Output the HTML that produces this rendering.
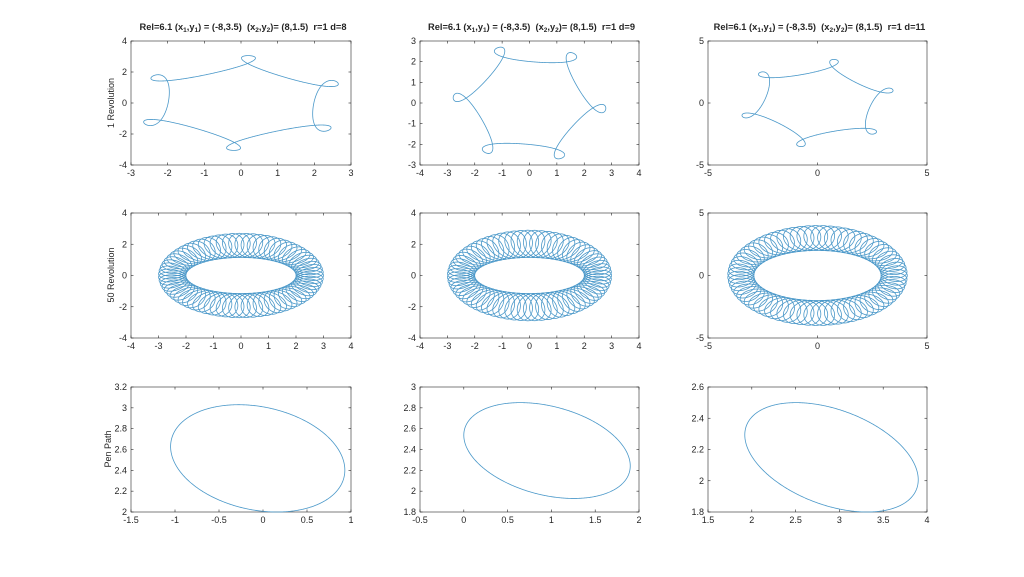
<!DOCTYPE html>
<html><head><meta charset="utf-8"><style>
body{margin:0;background:#fff;}
svg text{font-family:"Liberation Sans",sans-serif;fill:#262626;}
</style></head><body>
<svg id="s" width="1024" height="572" xmlns="http://www.w3.org/2000/svg"></svg>
<script>
const S=document.getElementById('s');let h='';
const cols=[[131,351],[420,639],[708,927]];
const rows=[[41,165],[213,338],[387,512]];
const ax=[
 [{x:[-3,3,1],y:[-4,4,2]},{x:[-4,4,1],y:[-3,3,1]},{x:[-5,5,5],y:[-5,5,5]}],
 [{x:[-4,4,1],y:[-4,4,2]},{x:[-4,4,1],y:[-4,4,2]},{x:[-5,5,5],y:[-5,5,5]}],
 [{x:[-1.5,1,0.5],y:[2,3.2,0.2]},{x:[-0.5,2,0.5],y:[1.8,3,0.2]},{x:[1.5,4,0.5],y:[1.8,2.6,0.2]}]];
const dv=[8,9,11];
function fmt(v){v=Math.round(v*10)/10;return (v<0?'-':'')+Math.abs(v);}
function curve(r,c,f,t0,t1,n){
 const a=ax[r][c],[L,R]=cols[c],[T,B]=rows[r];
 const X=v=>L+(v-a.x[0])/(a.x[1]-a.x[0])*(R-L), Y=v=>B-(v-a.y[0])/(a.y[1]-a.y[0])*(B-T);
 let d='';for(let i=0;i<=n;i++){const t=t0+(t1-t0)*i/n;const p=f(t);d+=(i?'L':'M')+X(p[0]).toFixed(2)+' '+Y(p[1]).toFixed(2);}
 h+=`<path d="${d}" fill="none" stroke="#4a98c9" stroke-width="0.8"/>`;
}
for(let r=0;r<3;r++)for(let c=0;c<3;c++){
 const a=ax[r][c],[L,R]=cols[c],[T,B]=rows[r];
 h+=`<rect x="${L}" y="${T}" width="${R-L}" height="${B-T}" fill="none" stroke="#262626" stroke-width="0.6"/>`;
 for(let v=a.x[0];v<=a.x[1]+1e-9;v+=a.x[2]){const x=L+(v-a.x[0])/(a.x[1]-a.x[0])*(R-L);
  h+=`<line x1="${x}" y1="${B}" x2="${x}" y2="${B-2.5}" stroke="#262626" stroke-width="0.6"/><line x1="${x}" y1="${T}" x2="${x}" y2="${T+2.5}" stroke="#262626" stroke-width="0.6"/><text x="${x}" y="${B+11}" font-size="9" text-anchor="middle">${fmt(v)}</text>`;}
 for(let v=a.y[0];v<=a.y[1]+1e-9;v+=a.y[2]){const y=B-(v-a.y[0])/(a.y[1]-a.y[0])*(B-T);
  h+=`<line x1="${L}" y1="${y}" x2="${L+2.5}" y2="${y}" stroke="#262626" stroke-width="0.6"/><line x1="${R}" y1="${y}" x2="${R-2.5}" y2="${y}" stroke="#262626" stroke-width="0.6"/><text x="${L-4}" y="${y+3}" font-size="9" text-anchor="end">${fmt(v)}</text>`;}
}
for(let c=0;c<3;c++){const m=(cols[c][0]+cols[c][1])/2+2;
 h+=`<text x="${m}" y="30" font-size="9.3" font-weight="bold" text-anchor="middle">Rel=6.1 (x<tspan font-size="6.5" dy="2">1</tspan><tspan dy="-2">,y</tspan><tspan font-size="6.5" dy="2">1</tspan><tspan dy="-2">) = (-8,3.5)&#160; (x</tspan><tspan font-size="6.5" dy="2">2</tspan><tspan dy="-2">,y</tspan><tspan font-size="6.5" dy="2">2</tspan><tspan dy="-2">)= (8,1.5)&#160; r=1 d=${dv[c]}</tspan></text>`;}
[['1 Revolution',103,114],['50 Revolution',275,114],['Pen Path',449,111]].forEach(([t,y,x])=>h+=`<text transform="translate(${x},${y}) rotate(-90)" font-size="9" text-anchor="middle">${t}</text>`);
function tro(a,b,c3,rot,sx,sy){return t=>{const x=a*Math.cos(t)+b*Math.cos(-5*t)+c3*Math.cos(7*t),y=a*Math.sin(t)+b*Math.sin(-5*t)+c3*Math.sin(7*t);const c=Math.cos(rot),s=Math.sin(rot);return [sx*(x*c-y*s),sy*(x*s+y*c)];};}
curve(0,0,tro(2.45,0.62,-0.15,0.45,1,1.05),0,2*Math.PI,2000);
curve(0,1,tro(2.35,0.6,-0.15,0.95,1,1.05),0,2*Math.PI,2000);
curve(0,2,tro(3.0,0.75,-0.15,0.3,1,1),0,2*Math.PI,2000);
function ring(k,ri,ro,yi,yo){return t=>{const u=2.5*Math.cos(t)+0.5*Math.cos(-k*t),v=2.5*Math.sin(t)+0.5*Math.sin(-k*t);const r=Math.hypot(u,v),s=r-2;return [u/r*(ri+s*(ro-ri)),v/r*(yi+s*(yo-yi))];};}
curve(1,0,ring(34.5,2,3,1.15,2.7),0,4*Math.PI,14000);
curve(1,1,ring(34.5,2,3,1.15,2.9),0,4*Math.PI,14000);
curve(1,2,ring(34.5,2.9,4.1,2,4),0,4*Math.PI,14000);
function el(cx,axx,cy,by,cp){const ph=Math.acos(cp);return t=>[cx+axx*Math.cos(t),cy+by*Math.cos(t-ph)];}
curve(2,0,el(-0.06,0.99,2.515,0.515,-0.22),0,2*Math.PI,600);
curve(2,1,el(0.95,0.95,2.39,0.46,-0.32),0,2*Math.PI,600);
curve(2,2,el(2.91,0.99,2.15,0.35,-0.41),0,2*Math.PI,600);
S.innerHTML=h;
</script>
</body></html>
